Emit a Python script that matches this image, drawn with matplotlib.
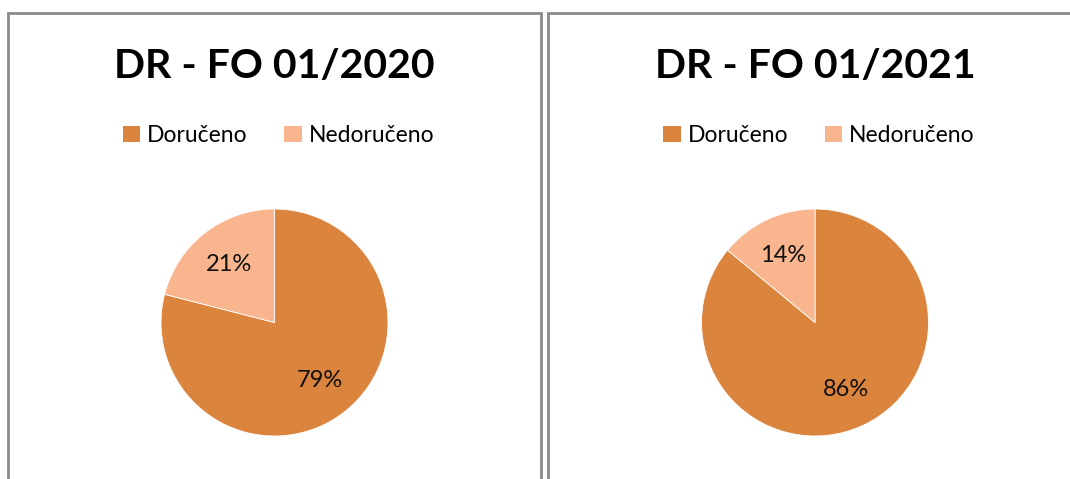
import matplotlib
matplotlib.use("Agg")
import matplotlib.pyplot as plt
from matplotlib.patches import Rectangle, Patch

W, H = 1070, 479
categories = ["Doručeno", "Nedoručeno"]
titles = ["DR - FO 01/2020", "DR - FO 01/2021"]
values_2020 = [79, 21]
values_2021 = [86, 14]
series = [values_2020, values_2021]
colors = ["#DB843D", "#F8B58E"]

plt.rcParams['font.family'] = ['Lato', 'DejaVu Sans']

fig = plt.figure(figsize=(W / 100, H / 100), dpi=100)
fig.patch.set_facecolor("white")

def fx(px):
    return px / W

def fy(py):
    return 1 - py / H

# panel borders
border_color = "#8a8a8a"
fig.add_artist(Rectangle((fx(7.5), fy(500)), fx(541 - 7.5), (500 - 12.5) / H,
                         transform=fig.transFigure, fill=False, ec=border_color, lw=2))
fig.add_artist(Rectangle((fx(547.5), fy(500)), fx(1200 - 547.5), (500 - 12.5) / H,
                         transform=fig.transFigure, fill=False, ec=border_color, lw=2))

centers_x = [274.5, 815]
cy = 322.5
r = 113.5

for i in range(2):
    cx = centers_x[i]
    ax = fig.add_axes([fx(cx - r), fy(cy + r), 2 * r / W, 2 * r / H])
    wedges, texts, autotexts = ax.pie(
        series[i], colors=colors, startangle=90, counterclock=False,
        autopct='%1.0f%%', pctdistance=0.65,
        wedgeprops=dict(edgecolor="white", linewidth=0.6),
        textprops=dict(fontsize=17, color="#111111"))
    ax.set_xlim(-1, 1)
    ax.set_ylim(-1, 1)
    ax.set_aspect('equal')
    ax.axis('off')

    fig.text(fx(cx), fy(78), titles[i], ha='center', va='baseline',
             fontsize=29.5, fontweight='bold', color='#000000')

    handles = [Patch(facecolor=c, edgecolor='none') for c in colors]
    fig.legend(handles, categories, loc='center',
               bbox_to_anchor=(fx(cx + 4), fy(135.5)), ncol=2, frameon=False,
               fontsize=16.5, handlelength=0.75, handleheight=0.75,
               handletextpad=0.3, columnspacing=1.6, borderaxespad=0)

fig.savefig("out.png", dpi=100, facecolor="white")
